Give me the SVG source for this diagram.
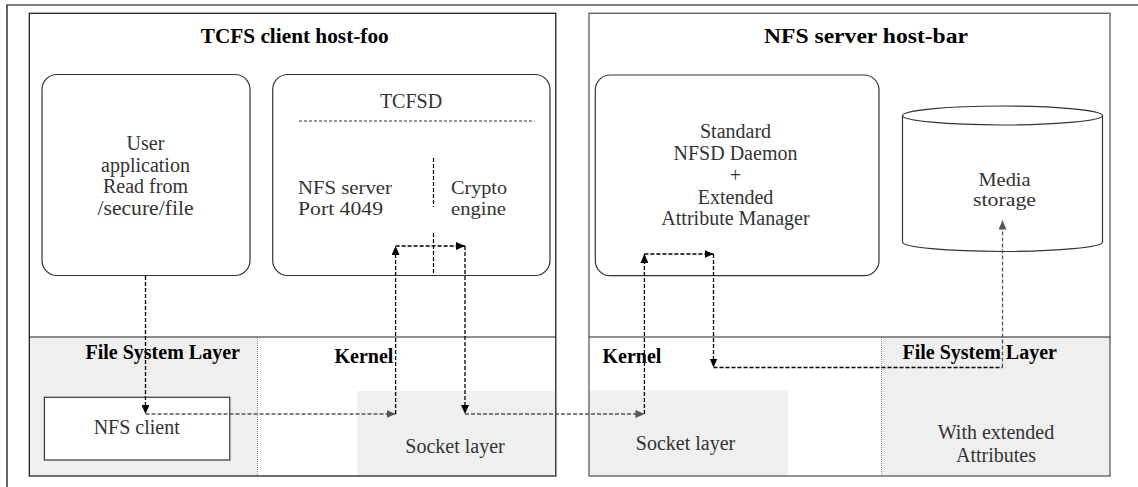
<svg xmlns="http://www.w3.org/2000/svg" width="1138" height="487" viewBox="0 0 1138 487">
<style>
.t{font-family:"Liberation Serif","Times New Roman",serif;font-size:20px;fill:#333}
.s{font-size:18.8px}
.m{font-size:18px}
.b{font-family:"Liberation Serif","Times New Roman",serif;font-size:20px;font-weight:bold;fill:#000}
.c{text-anchor:middle}
.g{fill:#efefef;stroke:none}
.node{fill:#fff;stroke:#333;stroke-width:1.2}
.dash{fill:none;stroke:#000;stroke-width:1.3;stroke-dasharray:4 2}
.dashg{fill:none;stroke:#555;stroke-width:1.3;stroke-dasharray:4 2}
.dot{stroke:#888;stroke-width:1;stroke-dasharray:1 1}
</style>
<defs>
<marker id="ab" markerUnits="userSpaceOnUse" markerWidth="9" markerHeight="8" viewBox="0 0 9 8" refX="9" refY="4" orient="auto"><path d="M0,0 L9,4 L0,8 z" fill="#000"/></marker>
<marker id="ag" markerUnits="userSpaceOnUse" markerWidth="9" markerHeight="8" viewBox="0 0 9 8" refX="9" refY="4" orient="auto"><path d="M0,0 L9,4 L0,8 z" fill="#555"/></marker>
</defs>
<rect x="0" y="0" width="1138" height="487" fill="#fff"/>
<path d="M7,487 V5 H1138" fill="none" stroke="#000" stroke-width="1.2"/>

<g id="panel-client">
<rect x="29.3" y="13.3" width="526.5" height="462.7" fill="#fff"/>
<g id="fsl-left">
<rect class="g" x="29.3" y="337" width="228.2" height="139"/>
<line class="dot" x1="257.5" y1="337" x2="257.5" y2="476"/>
<text class="b" x="85.5" y="359.3">File System Layer</text>
</g>
<g id="socket-left">
<rect class="g" x="357.5" y="391" width="198.2" height="85"/>
<text class="t c" x="455" y="453.3" fill="#444">Socket layer</text>
</g>
<rect x="29.3" y="13.3" width="526.5" height="462.7" fill="none" stroke="#222" stroke-width="1.3"/>
<line x1="29.3" y1="337" x2="555.8" y2="337" stroke="#222" stroke-width="1.2"/>
<text class="b" x="200.7" y="43" textLength="188" lengthAdjust="spacingAndGlyphs">TCFS client host-foo</text>
<g id="kernel-left"><text class="b" x="334.5" y="363.3">Kernel</text></g>
</g>

<g id="panel-server">
<rect x="589" y="13.3" width="521" height="462.7" fill="#fff"/>
<g id="socket-right">
<rect class="g" x="589" y="390.5" width="199" height="85.5"/>
<text class="t c" x="685.5" y="450" fill="#444">Socket layer</text>
</g>
<g id="fsl-right">
<rect class="g" x="881.5" y="337" width="228.5" height="139"/>
<line class="dot" x1="881.5" y1="337" x2="881.5" y2="476"/>
<text class="b" x="902.5" y="359.3">File System Layer</text>
<text class="t c" x="996" y="439.3" fill="#444">With extended</text>
<text class="t c" x="996" y="461.7" fill="#444">Attributes</text>
</g>
<rect x="589" y="13.3" width="521" height="462.7" fill="none" stroke="#666" stroke-width="1.4"/>
<line x1="589" y1="337" x2="1110" y2="337" stroke="#222" stroke-width="1.2"/>
<text class="b" x="764" y="43" textLength="204" lengthAdjust="spacingAndGlyphs">NFS server host-bar</text>
<g id="kernel-right"><text class="b" x="602.5" y="363.3">Kernel</text></g>
</g>

<g id="user-app">
<rect class="node" x="42" y="74.5" width="208" height="201" rx="15" ry="15"/>
<text class="t c" x="145.5" y="150">User</text>
<text class="t c" x="145.5" y="171.5">application</text>
<text class="t c" x="145.5" y="193">Read from</text>
<text class="t c" x="145.5" y="214.5" textLength="96" lengthAdjust="spacingAndGlyphs">/secure/file</text>
</g>

<g id="tcfsd">
<rect class="node" x="272.7" y="74.5" width="277.3" height="201" rx="15" ry="15"/>
<text class="t c" x="411" y="108.3">TCFSD</text>
<line x1="299" y1="121" x2="534.5" y2="121" stroke="#333" stroke-width="1" stroke-dasharray="3 2"/>
<line x1="433.5" y1="158" x2="433.5" y2="207" stroke="#000" stroke-width="1.2" stroke-dasharray="4 2"/>
<line x1="433.5" y1="233" x2="433.5" y2="275.5" stroke="#000" stroke-width="1.2" stroke-dasharray="4 2"/>
<text class="t s" x="298" y="194" textLength="94" lengthAdjust="spacingAndGlyphs">NFS server</text>
<text class="t s" x="298" y="215" textLength="85" lengthAdjust="spacingAndGlyphs">Port 4049</text>
<text class="t s" x="451" y="194" textLength="56" lengthAdjust="spacingAndGlyphs">Crypto</text>
<text class="t s" x="451" y="215" textLength="55" lengthAdjust="spacingAndGlyphs">engine</text>
</g>

<g id="nfs-client">
<rect class="node" x="44.4" y="397.3" width="185.4" height="62.7" stroke="#333"/>
<text class="t c" x="136.7" y="434">NFS client</text>
</g>

<g id="nfsd">
<rect class="node" x="595.3" y="75" width="283.7" height="200.7" rx="15" ry="15"/>
<text class="t c" x="735.5" y="138.3">Standard</text>
<text class="t c" x="735.5" y="160">NFSD Daemon</text>
<text class="t c" x="735.5" y="182">+</text>
<text class="t c" x="735.5" y="203.5">Extended</text>
<text class="t c" x="735.5" y="225">Attribute Manager</text>
</g>

<g id="media-storage">
<path d="M902.5,115.5 V242 A100,9.5 0 0 0 1102.5,242 V115.5" fill="#fff" stroke="#333" stroke-width="1.2"/>
<ellipse cx="1002.5" cy="115.5" rx="100" ry="9.5" fill="#fff" stroke="#333" stroke-width="1.2"/>
<text class="t m c" x="1004.5" y="185.5" textLength="52" lengthAdjust="spacingAndGlyphs">Media</text>
<text class="t m c" x="1004.5" y="205.5" textLength="63" lengthAdjust="spacingAndGlyphs">storage</text>
</g>

<g id="connectors">
<line class="dash" x1="145.5" y1="276" x2="145.5" y2="414" marker-end="url(#ab)"/>
<line class="dashg" x1="145.5" y1="414" x2="395.6" y2="414" marker-end="url(#ag)"/>
<line class="dash" x1="395.6" y1="414" x2="395.6" y2="246" marker-end="url(#ab)"/>
<line class="dash" x1="395.6" y1="246" x2="465" y2="246" marker-end="url(#ab)"/>
<line class="dash" x1="465" y1="246" x2="465" y2="414" marker-end="url(#ab)"/>
<line class="dashg" x1="465" y1="414" x2="644.4" y2="414" marker-end="url(#ag)"/>
<line class="dash" x1="644.4" y1="414" x2="644.4" y2="254" marker-end="url(#ab)"/>
<line class="dash" x1="644.4" y1="254" x2="713.5" y2="254" marker-end="url(#ab)"/>
<line class="dash" x1="713.5" y1="254" x2="713.5" y2="367.5" marker-end="url(#ab)"/>
<line class="dash" x1="713.5" y1="367.5" x2="1002.5" y2="367.5"/>
<line class="dashg" x1="1002.5" y1="367.5" x2="1002.5" y2="220.5" marker-end="url(#ag)"/>
</g>
</svg>
